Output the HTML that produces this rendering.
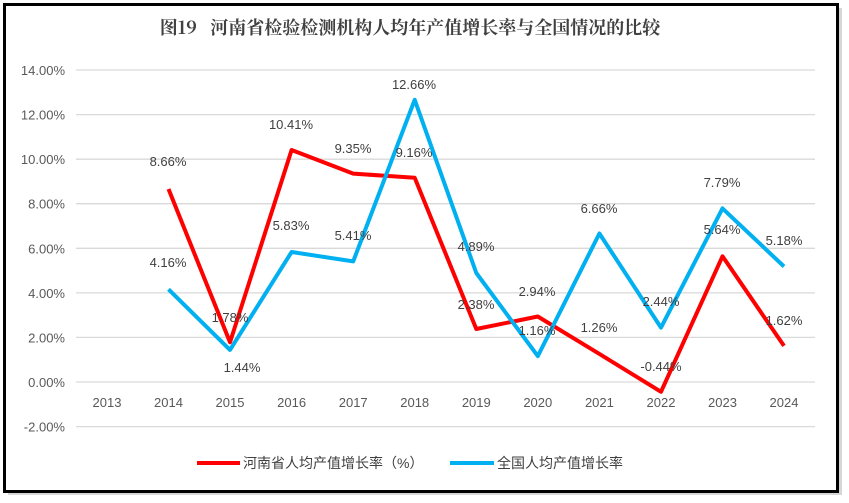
<!DOCTYPE html><html><head><meta charset="utf-8"><style>
body{margin:0;background:#fff;}
svg{display:block;font-family:"Liberation Sans","Noto Sans CJK SC",sans-serif;}
</style></head><body>
<svg width="849" height="503" viewBox="0 0 849 503">
<rect x="8" y="8" width="834" height="487" fill="#bbb" opacity="0.6"/>
<rect x="4.5" y="4.5" width="833" height="487" fill="#fff" stroke="#000" stroke-width="3"/>
<text x="410" y="34" text-anchor="middle" font-size="18" font-weight="bold" fill="#404040" font-family="'Noto Serif CJK SC','Noto Sans CJK SC',serif">图19&#160;&#160;&#160;河南省检验检测机构人均年产值增长率与全国情况的比较</text>
<g stroke="#d9d9d9" stroke-width="1.3">
<line x1="76" x2="815" y1="70" y2="70"/><line x1="76" x2="815" y1="114.6" y2="114.6"/><line x1="76" x2="815" y1="159.2" y2="159.2"/><line x1="76" x2="815" y1="203.7" y2="203.7"/><line x1="76" x2="815" y1="248.3" y2="248.3"/><line x1="76" x2="815" y1="292.9" y2="292.9"/><line x1="76" x2="815" y1="337.4" y2="337.4"/><line x1="76" x2="815" y1="382" y2="382"/><line x1="76" x2="815" y1="426.6" y2="426.6"/>
</g>
<g font-size="13" fill="#595959" text-anchor="end">
<text x="65" y="75">14.00%</text><text x="65" y="119.6">12.00%</text><text x="65" y="164.2">10.00%</text><text x="65" y="208.7">8.00%</text><text x="65" y="253.3">6.00%</text><text x="65" y="297.9">4.00%</text><text x="65" y="342.4">2.00%</text><text x="65" y="387">0.00%</text><text x="65" y="431.6">-2.00%</text>
</g>
<g font-size="13" fill="#595959" text-anchor="middle">
<text x="107" y="407">2013</text><text x="168.5" y="407">2014</text><text x="230" y="407">2015</text><text x="291.6" y="407">2016</text><text x="353.2" y="407">2017</text><text x="414.7" y="407">2018</text><text x="476.3" y="407">2019</text><text x="537.8" y="407">2020</text><text x="599.4" y="407">2021</text><text x="661" y="407">2022</text><text x="722.5" y="407">2023</text><text x="784" y="407">2024</text>
</g>
<polyline fill="none" stroke="#ff0000" stroke-width="4" stroke-linejoin="round" points="168.5,189 230,342.3 291.6,150 353.2,173.6 414.7,177.8 476.3,329 537.8,316.5 599.4,353.9 661,391.8 722.5,256.3 784,345.9"/>
<polyline fill="none" stroke="#00b0f0" stroke-width="4" stroke-linejoin="round" points="168.5,289.3 230,349.9 291.6,252 353.2,261.4 414.7,99.8 476.3,273 537.8,356.1 599.4,233.5 661,327.6 722.5,208.4 784,266.5"/>
<g font-size="13" fill="#404040" text-anchor="middle">
<text x="168" y="166">8.66%</text><text x="230" y="322">1.78%</text><text x="291" y="129">10.41%</text><text x="353" y="153">9.35%</text><text x="414" y="157">9.16%</text><text x="476" y="309">2.38%</text><text x="537" y="296">2.94%</text><text x="599" y="332">1.26%</text><text x="661" y="371">-0.44%</text><text x="722" y="234">5.64%</text><text x="784" y="325">1.62%</text>
<text x="168" y="267">4.16%</text><text x="242" y="372">1.44%</text><text x="291" y="230">5.83%</text><text x="353" y="240">5.41%</text><text x="414" y="89">12.66%</text><text x="476" y="251">4.89%</text><text x="537" y="335">1.16%</text><text x="599" y="213">6.66%</text><text x="661" y="306">2.44%</text><text x="722" y="187">7.79%</text><text x="784" y="245">5.18%</text>
</g>
<line x1="197" x2="240" y1="463" y2="463" stroke="#ff0000" stroke-width="4"/>
<text x="243" y="468" font-size="14" fill="#404040">河南省人均产值增长率（%）</text>
<line x1="450" x2="494" y1="463" y2="463" stroke="#00b0f0" stroke-width="4"/>
<text x="497" y="468" font-size="14" fill="#404040">全国人均产值增长率</text>
</svg></body></html>
